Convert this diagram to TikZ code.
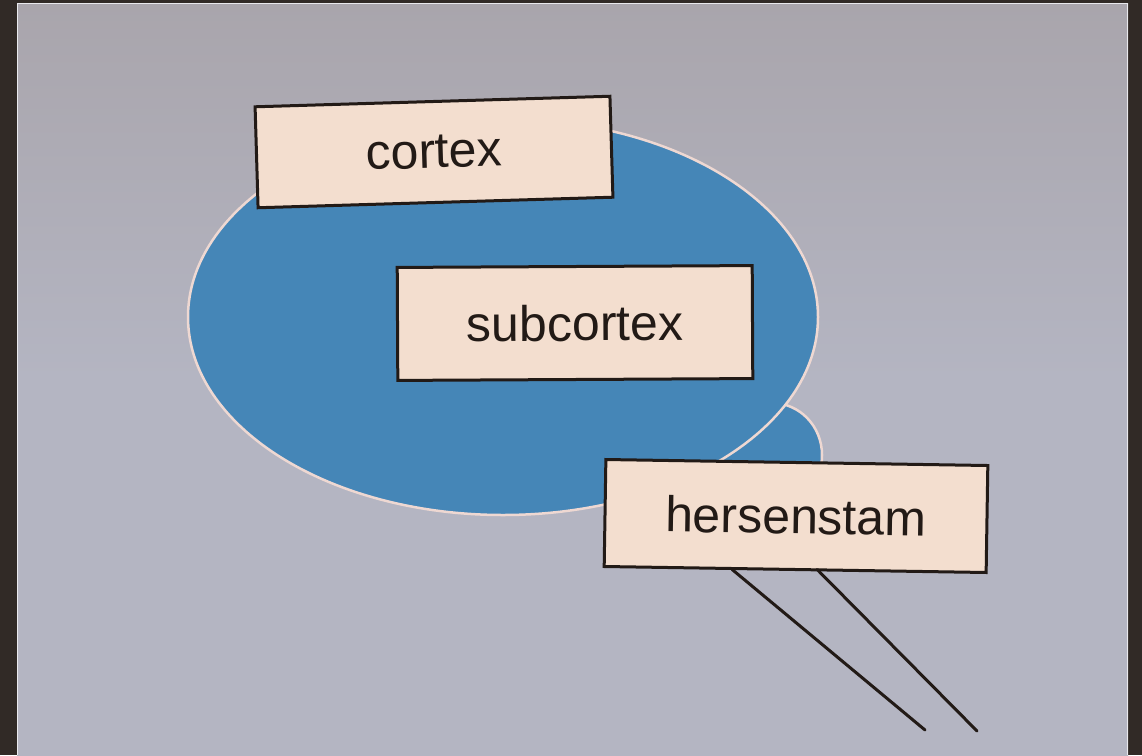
\documentclass[tikz,border=0pt]{standalone}
\usepackage{fontspec}
\setmainfont{Liberation Sans}
\definecolor{frame}{HTML}{312A26}
\definecolor{paper}{HTML}{B4B5C2}
\definecolor{paperdark}{HTML}{A9A5AC}
\definecolor{brain}{HTML}{4586B7}
\definecolor{rim}{HTML}{EED8D2}
\definecolor{boxfill}{HTML}{F3DECF}
\definecolor{ink}{HTML}{221A16}
\tikzset{
  labelbox/.style={draw=ink, line width=3pt, fill=boxfill, text=ink,
    font=\fontsize{50}{56}\selectfont, inner sep=0pt},
  stem/.style={draw=ink, line width=3pt, line cap=round}
}
\begin{document}
\begin{tikzpicture}[x=1pt,y=-1pt]
\useasboundingbox (0,0) rectangle (1142,755);
% frame and paper
\fill[frame] (0,0) rectangle (1142,755);
\shade[top color=paperdark, bottom color=paper, middle color=paper] (17,3) rectangle (1128,755);
\draw[white!70!paper, line width=1pt] (17.5,755) -- (17.5,3.5) -- (1127.5,3.5) -- (1127.5,755);
% brain stem bump
\fill[brain, draw=rim, line width=2.5pt] (772,455) ellipse [x radius=50, y radius=52];
% main ellipse
\fill[brain, draw=rim, line width=2.5pt] (503,317) ellipse [x radius=315, y radius=198];
% label boxes
\node[labelbox, minimum width=355pt, minimum height=101pt, rotate=1.7] (cortex) at (434,152) {cortex};
\node[labelbox, minimum width=355pt, minimum height=113pt, rotate=0.3] (sub) at (575,323) {subcortex};
\node[labelbox, minimum width=382pt, minimum height=107pt, rotate=-0.9] (stam) at (796,516) {hersenstam};
% stems
\coordinate (t1) at (925,730);
\coordinate (t2) at (977,731);
\draw[stem] ([xshift=-63pt,yshift=1.5pt]stam.south) -- (t1);
\draw[stem] ([xshift=22pt,yshift=1.5pt]stam.south) -- (t2);
\end{tikzpicture}
\end{document}
